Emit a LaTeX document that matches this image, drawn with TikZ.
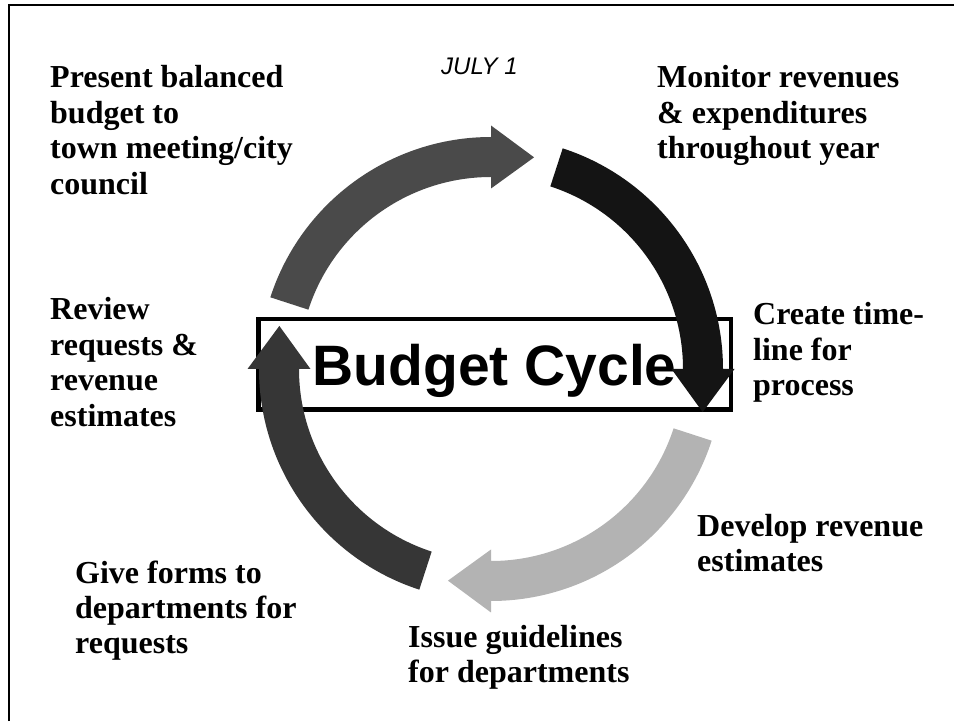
\documentclass[tikz,border=0pt]{standalone}
\usepackage{fontspec}
\setmainfont{Liberation Serif}
\newfontfamily\arialfont{Liberation Sans}
\usepackage{tikz}
\usetikzlibrary{calc, positioning}

\definecolor{topgray}{HTML}{4A4A4A}
\definecolor{nearblack}{HTML}{141414}
\definecolor{lightgray}{HTML}{B3B3B3}
\definecolor{darkgray}{HTML}{363636}

\tikzset{
  steplabel/.style={anchor=base west, align=left, inner sep=0pt,
    font=\fontsize{32}{35.5}\selectfont\bfseries},
  titlebox/.style={draw, line width=4.5pt, inner sep=0pt,
    minimum width=472.5pt, minimum height=90.5pt, text depth=0pt,
    font=\arialfont\fontsize{57}{60}\selectfont\bfseries}
}

\begin{document}
\begin{tikzpicture}[x=1pt,y=1pt]
\useasboundingbox (0,0) rectangle (954,721);
\draw[line width=2.5pt] (9,0) -- (9,716) -- (954,716);

\coordinate (c) at (491,352);
\node[titlebox] (title) at (494.5,356.5) {Budget Cycle};

% four arrows round the ring
\foreach \tail/\base/\shade in {162/90/topgray, 72/0/nearblack, -18/-90/lightgray, -108/-180/darkgray} {
  \fill[\shade] ($(c)+(\tail:232)$) arc[start angle=\tail, end angle=\base, radius=232]
    -- ($(c)+(\base:243.5)$) -- ($(c)+(\base-11.5:216)$) -- ($(c)+(\base:180.5)$)
    -- ($(c)+(\base:192)$) arc[start angle=\base, end angle=\tail, radius=192] -- cycle;
}

% labels, anchored at the baseline of their last line
\node[anchor=base west, inner sep=0pt, font=\arialfont\itshape\fontsize{24}{26}\selectfont] (july) at (441,646) {JULY 1};
\node[steplabel] (present) at (50,526.5) {Present balanced\\budget to\\town meeting/city\\council};
\node[steplabel] (monitor) at (657,562) {Monitor revenues\\\& expenditures\\throughout year};
\node[steplabel] (review) at (50,294.5) {Review\\requests \&\\revenue\\estimates};
\node[steplabel] (create) at (753,325) {Create time-\\line for\\process};
\node[steplabel] (develop) at (697,149.5) {Develop revenue\\estimates};
\node[steplabel] (issue) at (408,38.5) {Issue guidelines\\for departments};
\node[steplabel] (give) at (75,67) {Give forms to\\departments for\\requests};
\end{tikzpicture}
\end{document}
